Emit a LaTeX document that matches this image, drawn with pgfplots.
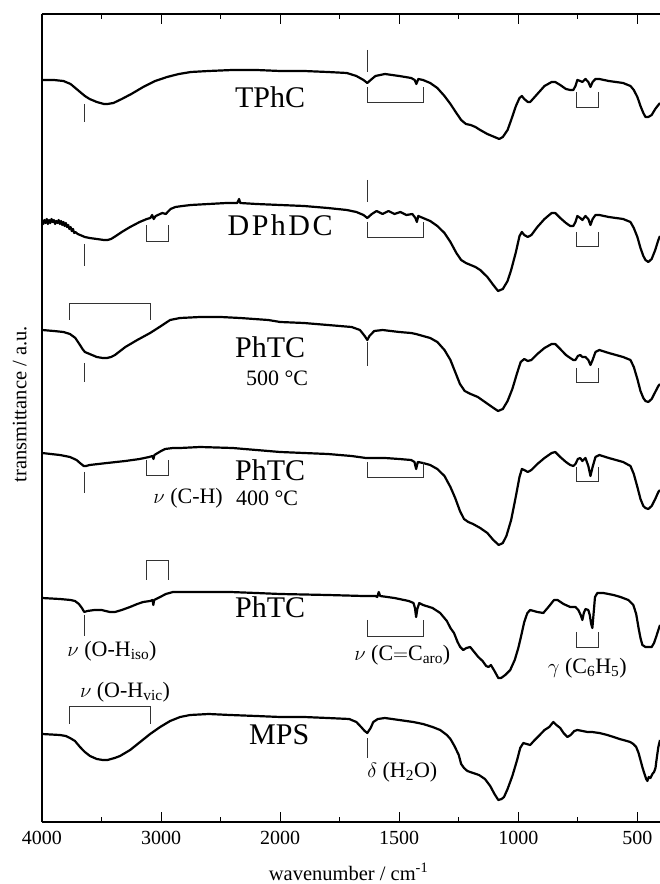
\documentclass[border=0pt]{standalone}
\usepackage{pgfplots}
\pgfplotsset{compat=1.18}
\usepackage{fontspec}
\setmainfont{Liberation Serif}
\begin{document}
\begin{tikzpicture}[
  trace/.style={black, line width=2.2pt, line join=round, mark=none},
  ann/.style={black!80, line width=1pt},
  big/.style={font=\fontsize{30}{34}\selectfont},
  mid/.style={font=\fontsize{22}{26}\selectfont},
]
\begin{axis}[
  scale only axis, width=618pt, height=808pt,
  x coord trafo/.code={\pgfmathparse{#1>1999.999 ? 4000-#1 : 6000-2*#1}},
  xmin=4000, xmax=405, ymin=-822, ymax=-14,
  axis x line=box, axis y line=left, y axis line style={-},
  axis line style={line width=1.1pt},
  tick align=inside,
  xtick={4000,3000,2000,1500,1000,500},
  xticklabels={4000,3000,2000,1500,1000,500},
  minor xtick={3500,2500,1750,1250,750},
  ytick=\empty,
  minor ytick={-792,-727,-662,-597,-532,-467,-402,-337,-272,-207,-142,-77},
  major tick length=10pt, minor tick length=5pt,
  every tick/.style={black, line width=1pt},
  tick label style={font=\fontsize{20}{24}\selectfont},
  xticklabel style={yshift=-6pt},
  xlabel={wavenumber / cm\textsuperscript{-1}},
  ylabel={transmittance / a.u.},
  every axis x label/.style={at={(axis description cs:0.496,-0.0619)}, anchor=center, font=\fontsize{20.5}{24}\selectfont},
  every axis y label/.style={at={(axis description cs:-0.036,0.517)}, rotate=90, anchor=center, font=\fontsize{20.5}{24}\selectfont},
]
% TPhC
\addplot[trace] coordinates {(4000,-80) (3900,-80) (3820,-81) (3760,-84) (3700,-90) (3640,-96) (3600,-99) (3540,-102) (3480,-104) (3450,-104) (3400,-103) (3330,-99) (3250,-94) (3150,-87) (3050,-81) (2950,-77) (2850,-74) (2750,-72) (2600,-71) (2400,-70) (2200,-70) (2000,-71) (1900,-71) (1800,-72) (1720,-73) (1680,-76) (1650,-80) (1634,-83) (1620,-80) (1600,-76) (1560,-74) (1500,-76) (1450,-78) (1435,-80) (1428,-84) (1420,-79) (1400,-80) (1370,-83) (1340,-88) (1310,-96) (1285,-104) (1260,-113) (1240,-120) (1220,-124) (1200,-125) (1180,-127) (1160,-130) (1130,-134) (1100,-137) (1080,-139) (1065,-137) (1045,-130) (1030,-120) (1010,-106) (995,-98) (985,-96) (975,-99) (960,-102) (950,-102) (920,-94) (890,-86) (860,-82) (845,-82) (824,-85) (800,-89) (782,-90) (769,-90) (760,-86) (752,-80) (740,-81) (731,-82) (718,-79) (706,-82) (697,-87) (688,-82) (676,-79) (660,-79) (620,-81) (560,-83) (529,-86) (515,-90) (500,-97) (487,-106) (475,-113) (466,-117) (454,-117) (440,-115) (425,-109) (412,-105) (405,-103)};
% DPhDC
\addplot[trace] coordinates {(4000,-222) (3990,-224) (3980,-220) (3970,-223) (3960,-219) (3950,-224) (3940,-220) (3930,-223) (3920,-219) (3910,-222) (3900,-220) (3890,-224) (3880,-221) (3870,-223) (3860,-220) (3850,-224) (3840,-221) (3830,-225) (3820,-222) (3810,-226) (3800,-223) (3790,-227) (3780,-225) (3770,-229) (3760,-227) (3750,-231) (3740,-229) (3730,-233) (3720,-232) (3700,-234) (3680,-235) (3640,-237) (3600,-238) (3540,-239) (3480,-240) (3450,-240) (3420,-239) (3380,-236) (3330,-232) (3260,-227) (3180,-222) (3120,-219) (3090,-218) (3075,-215) (3062,-219) (3045,-216) (2990,-213) (2960,-214) (2945,-212) (2920,-209) (2880,-207) (2820,-206) (2750,-205) (2600,-204) (2450,-203) (2360,-203) (2345,-199) (2335,-203) (2200,-204) (2000,-205) (1900,-206) (1800,-208) (1720,-210) (1680,-212) (1650,-215) (1634,-218) (1615,-214) (1595,-211) (1570,-214) (1545,-211) (1520,-214) (1495,-212) (1470,-215) (1445,-214) (1432,-218) (1426,-222) (1420,-216) (1400,-218) (1370,-221) (1340,-226) (1310,-233) (1285,-242) (1260,-253) (1240,-260) (1220,-263) (1200,-265) (1180,-267) (1160,-270) (1130,-277) (1105,-285) (1085,-291) (1065,-289) (1045,-281) (1030,-270) (1010,-252) (995,-236) (985,-232) (975,-235) (960,-237) (945,-235) (920,-227) (890,-219) (860,-213) (845,-213) (824,-218) (800,-223) (782,-226) (769,-226) (760,-222) (752,-216) (740,-218) (731,-220) (718,-216) (706,-219) (697,-225) (688,-219) (676,-215) (660,-215) (620,-217) (560,-219) (529,-222) (515,-228) (500,-237) (487,-248) (475,-256) (466,-260) (454,-262) (440,-259) (425,-250) (412,-240) (405,-236)};
% PhTC 500
\addplot[trace] coordinates {(4000,-330) (3900,-331) (3820,-332) (3765,-334) (3720,-338) (3681,-345) (3660,-349) (3640,-352) (3600,-354) (3540,-357) (3490,-358) (3454,-358) (3420,-357) (3387,-355) (3300,-347) (3200,-340) (3092,-333) (3000,-326) (2924,-320) (2840,-318) (2672,-317) (2500,-317) (2336,-318) (2100,-320) (2000,-322) (1900,-323) (1800,-325) (1700,-327) (1665,-330) (1645,-336) (1634,-340) (1625,-336) (1605,-331) (1570,-330) (1500,-332) (1450,-333) (1430,-334) (1400,-336) (1370,-338) (1340,-342) (1310,-350) (1285,-360) (1265,-372) (1245,-384) (1225,-391) (1200,-394) (1170,-397) (1140,-402) (1110,-407) (1085,-411) (1065,-409) (1045,-401) (1025,-389) (1005,-373) (990,-362) (975,-359) (960,-361) (945,-360) (920,-354) (890,-348) (860,-344) (845,-344) (824,-349) (800,-355) (782,-358) (769,-360) (760,-360) (750,-356) (740,-355) (731,-357) (718,-357) (706,-360) (697,-365) (688,-360) (676,-352) (660,-350) (620,-353) (560,-357) (529,-360) (515,-367) (500,-379) (487,-391) (475,-398) (466,-401) (454,-402) (440,-399) (425,-392) (412,-386) (405,-384)};
% PhTC 400
\addplot[trace] coordinates {(4000,-453) (3850,-455) (3765,-457) (3710,-460) (3681,-463) (3650,-466) (3630,-466) (3600,-465) (3454,-463) (3300,-461) (3180,-459) (3100,-457) (3072,-456) (3064,-459) (3056,-455) (3000,-451) (2966,-449) (2900,-448) (2840,-448) (2672,-447) (2400,-448) (2200,-450) (2000,-452) (1900,-453) (1800,-454) (1700,-456) (1640,-458) (1600,-458) (1560,-458) (1500,-459) (1450,-460) (1436,-462) (1429,-469) (1422,-462) (1400,-463) (1370,-465) (1340,-469) (1310,-476) (1285,-487) (1265,-498) (1245,-511) (1228,-519) (1210,-522) (1190,-524) (1160,-528) (1130,-533) (1105,-540) (1082,-545) (1065,-543) (1050,-536) (1030,-520) (1010,-496) (995,-477) (985,-469) (975,-470) (960,-472) (945,-470) (920,-464) (890,-458) (860,-453) (845,-452) (824,-457) (800,-462) (782,-465) (769,-466) (760,-464) (750,-459) (740,-458) (731,-461) (718,-458) (706,-466) (697,-476) (688,-467) (676,-457) (660,-455) (620,-458) (560,-462) (529,-466) (515,-474) (500,-487) (487,-499) (475,-506) (466,-508) (454,-509) (440,-506) (425,-499) (412,-492) (405,-490)};
% PhTC
\addplot[trace] coordinates {(4000,-598) (3850,-599) (3760,-600) (3723,-601) (3690,-604) (3665,-608) (3645,-612) (3620,-611) (3560,-610) (3500,-610) (3430,-612) (3387,-612) (3330,-610) (3261,-607) (3200,-604) (3150,-602) (3092,-601) (3072,-600) (3065,-605) (3058,-600) (3008,-597) (2960,-594) (2900,-592) (2700,-592) (2420,-592) (2200,-593) (2000,-594) (1800,-595) (1650,-596) (1600,-596) (1592,-597) (1586,-592) (1580,-596) (1520,-598) (1460,-601) (1440,-603) (1434,-608) (1429,-617) (1424,-609) (1416,-603) (1400,-605) (1360,-608) (1328,-613) (1300,-621) (1285,-628) (1270,-633) (1255,-642) (1244,-647) (1231,-650) (1218,-648) (1202,-647) (1185,-652) (1168,-657) (1150,-661) (1135,-666) (1125,-667) (1115,-665) (1100,-671) (1084,-678) (1072,-678) (1055,-675) (1034,-670) (1015,-660) (1000,-648) (990,-638) (975,-622) (962,-613) (950,-610) (920,-612) (895,-613) (870,-606) (850,-600) (835,-600) (810,-604) (782,-607) (760,-607) (748,-610) (738,-615) (731,-620) (725,-613) (718,-609) (706,-610) (700,-615) (694,-624) (689,-628) (684,-614) (678,-597) (668,-593) (643,-593) (600,-595) (571,-597) (538,-600) (517,-605) (505,-614) (495,-628) (487,-638) (479,-645) (466,-647) (454,-647) (440,-647) (430,-643) (420,-636) (412,-630) (405,-625)};
% MPS
\addplot[trace] coordinates {(4000,-734) (3850,-735) (3800,-736) (3765,-738) (3723,-741) (3681,-747) (3640,-752) (3597,-756) (3540,-759) (3490,-760) (3450,-760) (3390,-758) (3345,-756) (3260,-750) (3176,-742) (3092,-734) (3008,-727) (2924,-721) (2840,-717) (2756,-715) (2600,-714) (2420,-715) (2200,-716) (2000,-717) (1900,-717) (1800,-718) (1710,-719) (1680,-722) (1660,-727) (1645,-731) (1634,-733) (1620,-728) (1609,-722) (1590,-719) (1560,-718) (1500,-720) (1441,-722) (1400,-724) (1360,-727) (1328,-730) (1300,-735) (1285,-739) (1268,-746) (1250,-755) (1240,-764) (1228,-768) (1214,-771) (1190,-773) (1165,-775) (1140,-779) (1118,-786) (1100,-794) (1084,-800) (1070,-799) (1060,-797) (1045,-789) (1025,-776) (1005,-760) (992,-748) (979,-743) (965,-744) (950,-745) (935,-741) (910,-735) (890,-730) (870,-727) (853,-722) (840,-725) (824,-728) (810,-733) (794,-737) (780,-735) (765,-731) (752,-730) (730,-731) (710,-732) (690,-732) (660,-733) (626,-735) (600,-737) (575,-739) (559,-740) (530,-742) (517,-744) (505,-747) (495,-753) (487,-760) (478,-768) (470,-774) (463,-779) (458,-781) (452,-777) (445,-778) (437,-774) (430,-772) (424,-768) (418,-757) (412,-747) (405,-740)};

% ---- annotations: TPhC
\draw[ann] (axis cs:3640,-104) -- (axis cs:3640,-122);
\draw[ann] (axis cs:1634,-50) -- (axis cs:1634,-72);
\draw[ann] (axis cs:1634,-87) -- (axis cs:1634,-103) -- (axis cs:1400,-103) -- (axis cs:1400,-87);
\draw[ann] (axis cs:756,-92) -- (axis cs:756,-108) -- (axis cs:664,-108) -- (axis cs:664,-92);
\node[big] at (axis cs:2084,-97) {TPhC};
% DPhDC
\draw[ann] (axis cs:3640,-244) -- (axis cs:3640,-266);
\draw[ann] (axis cs:3126,-225) -- (axis cs:3126,-242) -- (axis cs:2941,-242) -- (axis cs:2941,-225);
\draw[ann] (axis cs:1634,-180) -- (axis cs:1634,-202);
\draw[ann] (axis cs:1634,-222) -- (axis cs:1634,-238) -- (axis cs:1400,-238) -- (axis cs:1400,-222);
\draw[ann] (axis cs:756,-232) -- (axis cs:756,-247) -- (axis cs:664,-247) -- (axis cs:664,-232);
\node[big] at (axis cs:2000,-225) {D\kern2.5pt P\kern2.5pt h\kern2.5pt D\kern2.5pt C};
% PhTC 500
\draw[ann] (axis cs:3773,-320) -- (axis cs:3773,-304) -- (axis cs:3092,-304) -- (axis cs:3092,-320);
\draw[ann] (axis cs:3640,-363) -- (axis cs:3640,-382);
\draw[ann] (axis cs:1634,-342) -- (axis cs:1634,-366);
\draw[ann] (axis cs:756,-368) -- (axis cs:756,-383) -- (axis cs:664,-383) -- (axis cs:664,-368);
\node[big] at (axis cs:2084,-347) {PhTC};
\node[mid] at (axis cs:2025,-378) {500 °C};
% PhTC 400
\draw[ann] (axis cs:3640,-472) -- (axis cs:3640,-493);
\draw[ann] (axis cs:3126,-460) -- (axis cs:3126,-476) -- (axis cs:2941,-476) -- (axis cs:2941,-460);
\node[mid] at (axis cs:2773,-498) {$\nu$ (C-H)};
\draw[ann] (axis cs:1634,-462) -- (axis cs:1634,-478) -- (axis cs:1400,-478) -- (axis cs:1400,-462);
\draw[ann] (axis cs:756,-467) -- (axis cs:756,-482) -- (axis cs:664,-482) -- (axis cs:664,-467);
\node[big] at (axis cs:2084,-470) {PhTC};
\node[mid] at (axis cs:2109,-498) {400 °C};
% PhTC
\draw[ann] (axis cs:3126,-580) -- (axis cs:3126,-561) -- (axis cs:2941,-561) -- (axis cs:2941,-580);
\draw[ann] (axis cs:3640,-615) -- (axis cs:3640,-636);
\node[mid] at (axis cs:3412,-651) {$\nu$ (O-H\textsubscript{iso})};
\draw[ann] (axis cs:1634,-620) -- (axis cs:1634,-637) -- (axis cs:1400,-637) -- (axis cs:1400,-620);
\node[mid] at (axis cs:1487,-655) {$\nu$ (C$=$C\textsubscript{aro})};
\draw[ann] (axis cs:756,-632) -- (axis cs:756,-648) -- (axis cs:664,-648) -- (axis cs:664,-632);
\node[mid] at (axis cs:710,-668) {$\gamma$ (C\textsubscript{6}H\textsubscript{5})};
\node[big] at (axis cs:2084,-607) {PhTC};
% MPS
\node[mid] at (axis cs:3303,-692) {$\nu$ (O-H\textsubscript{vic})};
\draw[ann] (axis cs:3773,-724) -- (axis cs:3773,-707) -- (axis cs:3092,-707) -- (axis cs:3092,-724);
\draw[ann] (axis cs:1634,-738) -- (axis cs:1634,-758);
\node[mid] at (axis cs:1487,-772) {$\delta$ (H\textsubscript{2}O)};
\node[big] at (axis cs:2008,-735) {MPS};
\end{axis}
\pgfresetboundingbox
\path ([shift={(-42pt,-62pt)}]current axis.south west) rectangle ([shift={(0pt,14pt)}]current axis.north east);
\end{tikzpicture}
\end{document}
